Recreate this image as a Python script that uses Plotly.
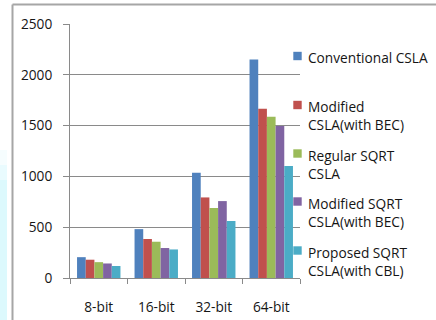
import plotly.graph_objects as go

# Adder delay comparison by word length
categories = ["8-bit", "16-bit", "32-bit", "64-bit"]
series_names = [
    "Conventional CSLA",
    "Modified CSLA(with BEC)",
    "Regular SQRT CSLA",
    "Modified SQRT CSLA(with BEC)",
    "Proposed SQRT CSLA(with CBL)",
]
legend_lines = [
    ["Conventional CSLA"],
    ["Modified", "CSLA(with BEC)"],
    ["Regular SQRT", "CSLA"],
    ["Modified SQRT", "CSLA(with BEC)"],
    ["Proposed SQRT", "CSLA(with CBL)"],
]
conventional_csla = [205, 481, 1036, 2150]
modified_csla_bec = [180, 384, 793, 1666]
regular_sqrt_csla = [156, 357, 689, 1588]
modified_sqrt_csla_bec = [143, 295, 757, 1497]
proposed_sqrt_csla_cbl = [118, 281, 561, 1102]
series_values = [
    conventional_csla,
    modified_csla_bec,
    regular_sqrt_csla,
    modified_sqrt_csla_bec,
    proposed_sqrt_csla_cbl,
]
y_ticks = [0, 500, 1000, 1500, 2000, 2500]
colors = ["#4F81BD", "#C0504D", "#9BBB59", "#8064A2", "#4BACC6"]

W, H = 436, 320
L, R, T, B = 70, 136, 24, 42
PW, PH = W - L - R, H - T - B


def px_x(x):
    return (x - L) / PW


def px_y(y):
    return (H - B - y) / PH


FONT = "Open Sans"
FS = 13.7
TEXT = "#151515"
GRID = "#8a8a8a"

fig = go.Figure()
for name, vals, col in zip(series_names, series_values, colors):
    fig.add_trace(go.Bar(
        x=categories, y=vals, name=name,
        marker=dict(color=col, line=dict(width=0)),
        showlegend=False,
    ))

shapes = []
annotations = []

# light backdrop strip at the far left
for y0, op in [(150, 0.25), (165, 0.5), (180, 1.0)]:
    shapes.append(dict(type="rect", xref="paper", yref="paper",
                       x0=px_x(0), x1=px_x(7), y0=px_y(320), y1=px_y(y0),
                       fillcolor="#dcf9fd", opacity=op, line=dict(width=0),
                       layer="below"))

# outer frame (left and top edges)
shapes.append(dict(type="line", xref="paper", yref="paper",
                   x0=px_x(12.5), x1=px_x(12.5), y0=px_y(320), y1=px_y(4.5),
                   line=dict(color="#a6a6a6", width=2)))
shapes.append(dict(type="line", xref="paper", yref="paper",
                   x0=px_x(12.5), x1=px_x(436), y0=px_y(4.5), y1=px_y(4.5),
                   line=dict(color="#a6a6a6", width=2)))

# legend: colour swatch plus wrapped label
legend_centers = [56, 105, 153.5, 201.5, 250.5]
for lines, col, cy in zip(legend_lines, colors, legend_centers):
    shapes.append(dict(type="rect", xref="paper", yref="paper",
                       x0=px_x(293.3), x1=px_x(301.7),
                       y0=px_y(cy + 4.2), y1=px_y(cy - 4.2),
                       fillcolor=col, line=dict(width=0)))
    annotations.append(dict(
        xref="paper", yref="paper", x=px_x(305.5),
        y=px_y(cy - 0.65 * FS - 1),
        text="<br>".join(lines), showarrow=False,
        xanchor="left", yanchor="top", align="left",
        font=dict(family=FONT, size=FS, color=TEXT),
    ))

fig.update_layout(
    width=W, height=H,
    margin=dict(l=L, r=R, t=T, b=B, pad=0, autoexpand=False),
    paper_bgcolor="white", plot_bgcolor="white",
    barmode="group", bargap=0.245, bargroupgap=0,
    font=dict(family=FONT, size=FS, color=TEXT),
    shapes=shapes, annotations=annotations,
    xaxis=dict(
        showline=True, linecolor=GRID, linewidth=1,
        ticks="outside", ticklen=5, tickcolor=GRID, tickwidth=1,
        tickson="boundaries", showgrid=False, automargin=False,
        ticklabelstandoff=17,
        tickfont=dict(family=FONT, size=FS, color=TEXT),
    ),
    yaxis=dict(
        range=[0, 2500], tickvals=y_ticks, automargin=False,
        showline=True, linecolor=GRID, linewidth=1,
        ticks="outside", ticklen=6, tickcolor=GRID, tickwidth=1,
        showgrid=True, gridcolor=GRID, gridwidth=1, zeroline=False,
        ticklabelstandoff=8,
        tickfont=dict(family=FONT, size=FS, color=TEXT),
    ),
)

fig.write_html("out.html")
